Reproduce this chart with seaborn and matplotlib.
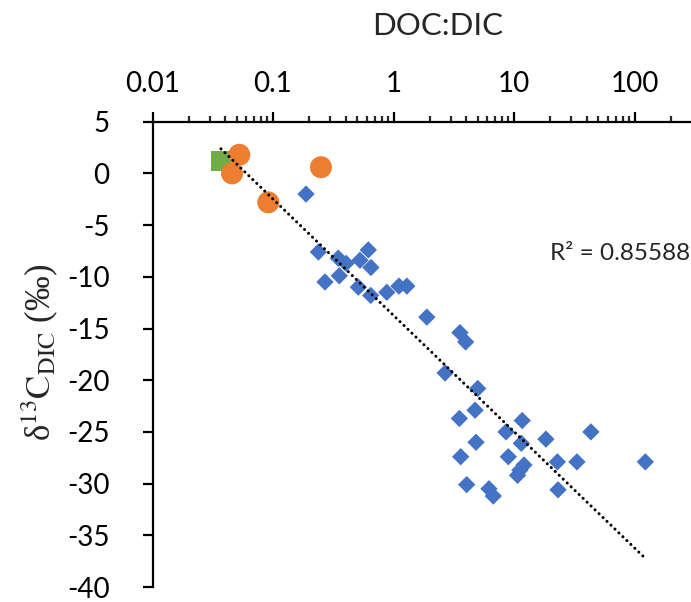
import numpy as np
import pandas as pd
import matplotlib
matplotlib.use("Agg")
import matplotlib.pyplot as plt
from matplotlib.ticker import FixedLocator, FixedFormatter, LogLocator, NullFormatter
import seaborn as sns

# DOC:DIC ratios and d13C-DIC values (per mil)
blue_x = [0.188, 0.238, 0.348, 0.404, 0.618, 0.527, 0.650, 0.355, 0.270, 0.511,
          0.647, 0.880, 1.11, 1.29, 1.89, 3.56, 3.97, 2.68, 5.0, 4.75,
          3.52, 11.7, 8.59, 18.4, 11.5, 43.5, 4.84, 3.61, 8.97, 12.1,
          11.2, 10.7, 22.9, 33.3, 123.0, 4.05, 6.2, 6.73, 23.2]
blue_y = [-2.0, -7.6, -8.2, -8.7, -7.4, -8.4, -9.1, -9.9, -10.5, -11.0,
          -11.8, -11.5, -10.9, -10.9, -13.9, -15.4, -16.3, -19.3, -20.8, -22.9,
          -23.7, -23.9, -25.0, -25.7, -26.1, -25.0, -26.0, -27.4, -27.4, -28.2,
          -28.7, -29.2, -27.9, -27.9, -27.9, -30.1, -30.5, -31.2, -30.6]
orange_x = [0.0525, 0.0457, 0.250, 0.0914]
orange_y = [1.8, 0.0, 0.6, -2.8]
green_x = [0.037]
green_y = [1.2]

x_ticks = [0.01, 0.1, 1, 10, 100]
x_tick_labels = ["0.01", "0.1", "1", "10", "100"]
y_ticks = list(range(-40, 6, 5))
r2_text = "R\u00b2 = 0.85588"

blue_df = pd.DataFrame({"ratio": blue_x, "d13c": blue_y})
orange_df = pd.DataFrame({"ratio": orange_x, "d13c": orange_y})
green_df = pd.DataFrame({"ratio": green_x, "d13c": green_y})
all_df = pd.concat([green_df, orange_df, blue_df], ignore_index=True)

sns.set_theme(style="white")
plt.rcParams["font.family"] = ["Lato", "DejaVu Sans"]
plt.rcParams["axes.unicode_minus"] = False
plt.rcParams["mathtext.fontset"] = "stix"

fig = plt.figure(figsize=(6.91, 6.02), dpi=100)
ax = fig.add_axes([152.5 / 691, 1 - 587 / 602, 1 - 152.5 / 691, (587 - 121.7) / 602])

sns.scatterplot(data=blue_df, x="ratio", y="d13c", marker="D", s=78,
                color="#4472C4", edgecolor="none", ax=ax, zorder=3)
sns.scatterplot(data=green_df, x="ratio", y="d13c", marker="s", s=215,
                color="#70AD47", edgecolor="none", ax=ax, zorder=4)
sns.scatterplot(data=orange_df, x="ratio", y="d13c", marker="o", s=250,
                color="#ED7D31", edgecolor="none", ax=ax, zorder=5)

# logarithmic trend line over all samples
sns.regplot(data=all_df, x="ratio", y="d13c", logx=True, ci=None, scatter=False,
            truncate=True, ax=ax,
            line_kws=dict(color="black", lw=2.2, linestyle=(0, (0.01, 1.8)),
                          dash_capstyle="round", zorder=6))

ax.set_xscale("log")
ax.set_xlim(0.01, 10 ** (-2 + (691 - 152.5) / 120.5))
ax.set_ylim(-40, 5)

ax.xaxis.tick_top()
ax.xaxis.set_major_locator(FixedLocator(x_ticks))
ax.xaxis.set_major_formatter(FixedFormatter(x_tick_labels))
ax.xaxis.set_minor_locator(LogLocator(base=10, subs=np.arange(2, 10), numticks=20))
ax.xaxis.set_minor_formatter(NullFormatter())
ax.set_yticks(y_ticks)
ax.set_yticklabels([str(v) for v in y_ticks])

for side in ["right", "bottom"]:
    ax.spines[side].set_visible(False)
for side in ["top", "left"]:
    ax.spines[side].set_linewidth(1.6)
    ax.spines[side].set_color("black")

ax.tick_params(axis="x", which="major", direction="out", length=7, width=1.6,
               top=True, bottom=False, labeltop=True, labelbottom=False,
               labelsize=20, pad=11, colors="black")
ax.tick_params(axis="x", which="minor", direction="out", length=4, width=1.6,
               top=True, bottom=False)
ax.tick_params(axis="y", which="major", direction="out", length=7, width=1.6,
               left=True, labelsize=20, pad=24, colors="black")
ax.set_xlabel("")
ax.set_ylabel("")
ax.grid(False)

fig.text(438 / 691, 1 - 26 / 602, "DOC:DIC", ha="center", va="center", fontsize=22.5)
fig.text(40 / 691, 1 - 352 / 602,
         "\u03b4" + r"$^{13}\mathrm{C}_{\mathrm{DIC}}$" + " (\u2030)",
         rotation=90, ha="center", va="center", fontsize=25,
         family=["Liberation Serif", "DejaVu Serif"])
ax.text(550, 342, r2_text, fontsize=17.5, ha="left", va="baseline",
        transform=None)

fig.savefig("out.png", dpi=100)
